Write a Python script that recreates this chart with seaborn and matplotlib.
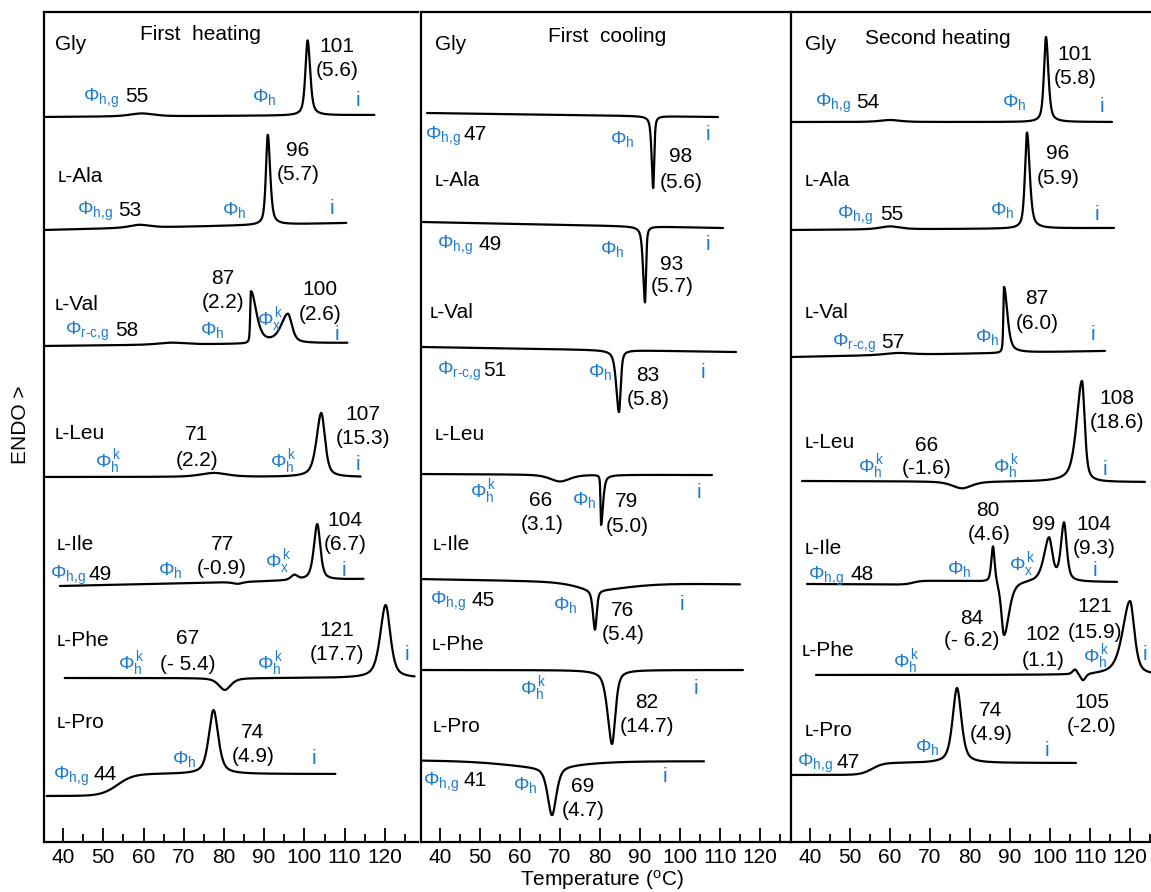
import numpy as np
import pandas as pd
import matplotlib
matplotlib.use("Agg")
import matplotlib.pyplot as plt
from matplotlib.ticker import MultipleLocator
import seaborn as sns

# ---------------------------------------------------------------- data
SAMPLES = ["Gly", "ʟ-Ala", "ʟ-Val", "ʟ-Leu", "ʟ-Ile", "ʟ-Phe", "ʟ-Pro"]
RUNS = ["First  heating", "First  cooling", "Second heating"]
TICKS = [40, 50, 60, 70, 80, 90, 100, 110, 120]

# Each trace: temperature span, baseline level at both ends (stacked offset),
# transitions as (T, amplitude, half-width left, half-width right) and
# glass steps as (T, height, width).  Negative amplitude = exotherm.
H1_SPAN = [(35.4, 117.4), (35.4, 110.4), (35.4, 110.7), (35.4, 114.0),
           (39.2, 114.7), (40.4, 127.4), (35.9, 107.7)]
H1_BASE = [(725, 727), (612, 619), (496, 499), (365, 365),
           (256, 263), (164, 164), (46, 46)]
H1_PEAKS = [
    [(59.5, 3, 3.5, 3.5), (100.8, 75, 0.65, 0.75)],
    [(59.0, 3, 3.0, 3.0), (90.9, 90, 0.55, 0.7)],
    [(67.0, 2, 4.0, 4.0), (86.7, 52, 0.2, 1.6), (95.9, 29, 2.0, 1.2)],
    [(77.5, 4, 4.0, 4.0), (104.2, 64, 1.4, 1.1)],
    [(83.4, -2, 1.5, 1.5), (97.5, 5, 1.0, 1.0), (103.2, 56, 1.0, 0.9)],
    [(80.2, -12, 1.8, 1.8), (120.2, 73, 1.6, 1.4)],
    [(77.4, 64, 1.4, 1.4)],
]
H1_STEPS = [[], [], [], [], [], [], [(53.5, 22, 4.0)]]

C1_SPAN = [(36.75, 109.5), (35.5, 110.75), (35.5, 114.0), (35.5, 108.0),
           (35.5, 115.0), (35.5, 115.75), (35.0, 106.0)]
C1_BASE = [(729, 725), (620, 614), (495, 490), (368, 367),
           (263, 258), (172, 172), (82, 81)]
C1_PEAKS = [
    [(93.3, -72, 0.45, 0.3)],
    [(91.25, -76, 0.55, 0.3)],
    [(84.75, -62, 0.8, 0.5)],
    [(70.0, -7, 3.0, 3.0), (80.25, -50, 0.15, 0.6)],
    [(79.0, -8, 6.0, 10.0), (78.75, -40, 0.6, 0.5)],
    [(83.0, -74, 1.3, 1.0)],
    [(65.0, -6, 12.0, 12.0), (68.0, -49, 1.3, 1.3)],
]
C1_STEPS = [[], [], [], [], [], [], []]

H2_SPAN = [(35.5, 115.5), (35.5, 116.0), (35.5, 113.75), (38.0, 123.75),
           (39.25, 116.75), (41.5, 128.0), (35.5, 106.5)]
H2_BASE = [(720, 720), (612, 614), (485, 491), (361, 360),
           (258, 256), (167, 167), (67, 67)]
H2_PEAKS = [
    [(60.0, 2, 3.0, 3.0), (99.0, 85, 0.6, 0.7)],
    [(60.0, 3, 3.0, 3.0), (94.25, 96, 0.6, 0.8)],
    [(62.0, 2, 4.0, 4.0), (88.5, 66, 0.2, 1.0)],
    [(78.0, -7, 3.0, 3.0), (108.0, 101, 1.6, 0.8)],
    [(85.75, 37, 0.5, 0.5), (88.5, -55, 0.8, 1.5),
     (99.75, 43, 1.5, 1.0), (103.5, 58, 0.9, 0.8)],
    [(106.25, 5, 0.7, 0.7), (108.25, -7, 0.8, 0.8), (120.0, 74, 2.2, 1.3)],
    [(76.75, 75, 1.3, 1.3)],
]
H2_STEPS = [[], [], [], [], [(65.75, 4, 2.0)], [], [(55.5, 12, 2.8)]]


def thermogram(span, base, peaks, steps, dT=0.02):
    """Baseline + pseudo-Voigt transitions + sigmoidal glass steps."""
    T = np.arange(span[0], span[1] + dT / 2, dT)
    y = np.interp(T, span, base)
    for T0, A, wl, wr in peaks:
        u = (T - T0) / np.where(T < T0, wl, wr)
        y = y + A * (0.6 / (1 + u ** 2) + 0.4 * np.exp(-np.log(2) * u ** 2))
    for T0, A, w in steps:
        y = y + A * 0.5 * (1 + np.tanh((T - T0) / w))
    return T, y


frames = []
for run, spans, bases, peaks, steps in [
        (RUNS[0], H1_SPAN, H1_BASE, H1_PEAKS, H1_STEPS),
        (RUNS[1], C1_SPAN, C1_BASE, C1_PEAKS, C1_STEPS),
        (RUNS[2], H2_SPAN, H2_BASE, H2_PEAKS, H2_STEPS)]:
    for name, sp, bs, pk, st in zip(SAMPLES, spans, bases, peaks, steps):
        T, y = thermogram(sp, bs, pk, st)
        frames.append(pd.DataFrame({"run": run, "sample": name,
                                    "T": T, "flow": y}))
dsc = pd.concat(frames, ignore_index=True)

# ---------------------------------------------------------------- style
sns.set_theme(style="white")
plt.rcParams["font.family"] = ["Liberation Sans", "DejaVu Sans"]
plt.rcParams["mathtext.fontset"] = "custom"
plt.rcParams["mathtext.rm"] = "Liberation Sans"
plt.rcParams["mathtext.it"] = "Liberation Sans:italic"
plt.rcParams["mathtext.bf"] = "Liberation Sans:bold"

W, H = 1151, 892
BLUE = "#1f7bcc"
FS = 15
fig = plt.figure(figsize=(W / 100, H / 100), dpi=100)
fig.patch.set_facecolor("white")

panel_px = [(44, 374, (35.25, 128.25)),
            (421, 370, (35.25, 127.75)),
            (791, 370, (35.25, 127.75))]
bottom_px, top_px = 842, 12

for run, (left, width, xlim) in zip(RUNS, panel_px):
    ax = fig.add_axes([left / W, (H - bottom_px) / H, width / W,
                       (bottom_px - top_px) / H])
    sub = dsc[dsc["run"] == run]
    sns.lineplot(data=sub, x="T", y="flow", units="sample", estimator=None,
                 sort=False, color="black", lw=1.6, legend=False, ax=ax)
    ax.set_xlim(*xlim)
    ax.set_ylim(0, bottom_px - top_px)
    ax.set_yticks([])
    ax.set_xticks(TICKS)
    ax.set_xticklabels([str(t) for t in TICKS])
    ax.xaxis.set_minor_locator(MultipleLocator(5))
    ax.tick_params(axis="x", which="major", direction="in", length=10,
                   width=1.3, colors="black", labelsize=FS, pad=4,
                   bottom=True, top=False)
    ax.tick_params(axis="x", which="minor", direction="in", length=5.5,
                   width=1.3, colors="black", bottom=True, top=False)
    ax.set_xlabel("")
    ax.set_ylabel("")
    for side in ["left", "top", "bottom"]:
        ax.spines[side].set_color("black")
        ax.spines[side].set_linewidth(1.6)
    ax.spines["right"].set_visible(False)
    ax.patch.set_alpha(0)


def put(x, y, s, color="black", size=FS, ha="center", **kw):
    """Place text by its centre line in figure pixel units."""
    fig.text(x / W, 1 - (y + size * 0.5) / H, s, color=color, fontsize=size,
             ha=ha, va="baseline", **kw)


PHI_HG = "Φ$_{\\mathrm{h{,}g}}$"
PHI_H = "Φ$_{\\mathrm{h}}$"
PHI_HK = "Φ$_{\\mathrm{h}}^{\\,\\mathrm{k}}$"
PHI_XK = "Φ$_{\\mathrm{x}}^{\\,\\mathrm{k}}$"
PHI_RCG = "Φ$_{\\mathrm{r}\\text{-}\\mathrm{c{,}g}}$"


def phase(x, y, s):
    put(x, y, s, color=BLUE, size=14, ha="left")


def iso(x, y):
    put(x, y, "i", color=BLUE, size=FS)


def name(x, y, s):
    put(x, y, s, ha="left")


# ---- first heating
put(200, 33, RUNS[0])
name(55, 43, SAMPLES[0]); put(337, 45, "101"); put(337, 68, "(5.6)")
phase(83, 95, PHI_HG); put(137, 95, "55"); phase(252, 95, PHI_H); iso(358, 98)
name(58, 175, SAMPLES[1]); put(298, 148, "96"); put(298, 173, "(5.7)")
phase(77, 208, PHI_HG); put(130, 208, "53"); phase(222, 208, PHI_H); iso(332, 207)
name(55, 302, SAMPLES[2]); put(223, 277, "87"); put(223, 300, "(2.2)")
put(320, 288, "100"); put(320, 312, "(2.6)")
phase(65, 328, PHI_RCG); put(127, 328, "58"); phase(200, 328, PHI_H)
phase(257, 318, PHI_XK); iso(337, 333)
name(55, 432, SAMPLES[3]); put(197, 433, "71"); put(197, 458, "(2.2)")
put(363, 412, "107"); put(363, 437, "(15.3)")
phase(95, 460, PHI_HK); phase(270, 460, PHI_HK); iso(358, 463)
name(57, 542, SAMPLES[4]); put(222, 542, "77"); put(222, 567, "(-0.9)")
put(345, 518, "104"); put(345, 542, "(6.7)")
phase(50, 572, PHI_HG); put(100, 572, "49"); phase(158, 568, PHI_H)
phase(265, 560, PHI_XK); iso(344, 568)
name(57, 638, SAMPLES[5]); put(188, 637, "67"); put(188, 662, "(- 5.4)")
put(337, 629, "121"); put(337, 653, "(17.7)")
phase(118, 662, PHI_HK); phase(257, 662, PHI_HK); iso(407, 653)
name(57, 720, SAMPLES[6]); put(253, 730, "74"); put(253, 755, "(4.9)")
phase(53, 773, PHI_HG); put(105, 773, "44"); phase(172, 757, PHI_H); iso(314, 757)

# ---- first cooling
put(607, 35, RUNS[1])
name(435, 43, SAMPLES[0])
phase(425, 133, PHI_HG); put(475, 133, "47"); phase(610, 137, PHI_H); iso(708, 133)
put(681, 155, "98"); put(681, 180, "(5.6)")
name(435, 178, SAMPLES[1])
phase(437, 242, PHI_HG); put(490, 242, "49"); phase(600, 247, PHI_H); iso(708, 243)
put(672, 262, "93"); put(672, 285, "(5.7)")
name(430, 310, SAMPLES[2])
phase(437, 368, PHI_RCG); put(495, 368, "51"); phase(588, 370, PHI_H)
put(648, 373, "83"); put(648, 398, "(5.8)"); iso(703, 370)
name(435, 433, SAMPLES[3])
phase(470, 490, PHI_HK); put(541, 498, "66"); put(542, 522, "(3.1)")
phase(572, 498, PHI_H); put(627, 500, "79"); put(627, 524, "(5.0)"); iso(699, 490)
name(433, 543, SAMPLES[4])
phase(430, 598, PHI_HG); put(483, 598, "45"); phase(553, 603, PHI_H)
put(623, 608, "76"); put(623, 633, "(5.4)"); iso(682, 602)
name(432, 643, SAMPLES[5])
phase(520, 687, PHI_HK); put(647, 700, "82"); put(647, 725, "(14.7)"); iso(696, 686)
name(433, 725, SAMPLES[6])
phase(423, 779, PHI_HG); put(475, 779, "41"); phase(513, 783, PHI_H)
put(583, 785, "69"); put(583, 809, "(4.7)"); iso(665, 775)

# ---- second heating
put(938, 36, RUNS[2])
name(805, 43, SAMPLES[0]); put(1075, 53, "101"); put(1075, 76, "(5.8)")
phase(815, 100, PHI_HG); put(868, 100, "54"); phase(1002, 100, PHI_H); iso(1102, 105)
name(805, 178, SAMPLES[1]); put(1058, 152, "96"); put(1058, 176, "(5.9)")
phase(837, 212, PHI_HG); put(892, 212, "55"); phase(990, 208, PHI_H); iso(1097, 212)
name(805, 310, SAMPLES[2]); put(1037, 297, "87"); put(1037, 322, "(6.0)")
phase(832, 340, PHI_RCG); put(893, 340, "57"); phase(975, 335, PHI_H); iso(1093, 333)
name(805, 440, SAMPLES[3]); put(927, 443, "66"); put(927, 467, "(-1.6)")
put(1117, 397, "108"); put(1117, 420, "(18.6)")
phase(858, 465, PHI_HK); phase(993, 465, PHI_HK); iso(1105, 468)
name(805, 546, SAMPLES[4]); put(988, 508, "80"); put(989, 532, "(4.6)")
put(1044, 522, "99"); put(1094, 522, "104"); put(1094, 546, "(9.3)")
phase(808, 573, PHI_HG); put(862, 573, "48"); phase(947, 567, PHI_H)
phase(1009, 563, PHI_XK); iso(1095, 568)
name(802, 648, SAMPLES[5]); put(972, 616, "84"); put(972, 639, "(- 6.2)")
put(1043, 633, "102"); put(1043, 658, "(1.1)")
put(1095, 605, "121"); put(1095, 630, "(15.9)")
phase(893, 660, PHI_HK); phase(1083, 655, PHI_HK)
put(1092, 700, "105"); put(1092, 724, "(-2.0)"); iso(1145, 653)
name(805, 729, SAMPLES[6]); put(991, 709, "74"); put(991, 733, "(4.9)")
phase(797, 760, PHI_HG); put(848, 760, "47"); phase(915, 745, PHI_H); iso(1047, 748)

# ---- axis titles
put(602, 878, "Temperature ($^{\\mathrm{o}}$C)")
fig.text(20 / W, 1 - 425 / H, "ENDO >", rotation=90, fontsize=FS,
         ha="center", va="center", color="black")

fig.savefig("out.png", dpi=100, facecolor="white")
